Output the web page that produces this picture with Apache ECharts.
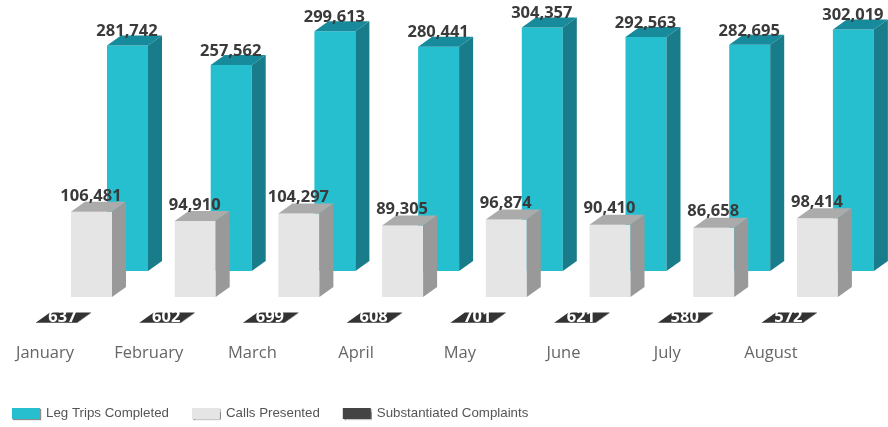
<!DOCTYPE html>
<html>
<head>
<meta charset="utf-8">
<style>html,body{margin:0;padding:0;background:#fff}#show_picture{width:888px;height:427px}</style>
<script src="https://cdn.jsdelivr.net/npm/echarts@6/dist/echarts.min.js"></script>
</head>
<body>
<div id="show_picture"></div>
<script>
const months = ['January', 'February', 'March', 'April', 'May', 'June', 'July', 'August'];
const legTrips = [281742, 257562, 299613, 280441, 304357, 292563, 282695, 302019];
const calls = [106481, 94910, 104297, 89305, 96874, 90410, 86658, 98414];
const complaints = [637, 602, 699, 608, 701, 621, 580, 572];

let myChart = echarts.init(document.getElementById('show_picture'));

// fake 3d box, dx/dy moves the whole series along the depth of the chart
function box(colors, dx, dy, labelStyle) {
    return function (params, api) {
        let i = api.value(0);
        let v = api.value(1);
        let p0 = api.coord([i, 0]);
        let p1 = api.coord([i, v]);
        let w = 41, dw = 14, dh = 10;
        let l = p0[0] + dx - w / 2, r = l + w;
        let b = p0[1] + dy, t = p1[1] + dy;
        let txt = v.toLocaleString('en-US');
        return {
            type: 'group',
            children: [
                { type: 'polygon', shape: { points: [[l, b], [r, b], [r, t], [l, t]] }, style: { fill: colors[0] } },
                { type: 'polygon', shape: { points: [[l, t], [r, t], [r + dw, t - dh], [l + dw, t - dh]] }, style: { fill: colors[1] } },
                { type: 'polygon', shape: { points: [[r, b], [r + dw, b - dh], [r + dw, t - dh], [r, t]] }, style: { fill: colors[2] } },
                {
                    type: 'text',
                    z2: 10,
                    style: Object.assign({
                        text: txt,
                        x: (l + r) / 2 + labelStyle.dx,
                        y: t + labelStyle.dy,
                        align: 'center',
                        verticalAlign: 'middle',
                        fontFamily: 'Open Sans',
                        fontWeight: 'bold'
                    }, labelStyle.text)
                }
            ]
        };
    };
}

let option = {
    animation: false,
    backgroundColor: '#fff',
    grid: { left: 45, top: 3, width: 725.9, height: 320 },
    xAxis: {
        type: 'category',
        data: months,
        boundaryGap: false,
        axisLine: { show: false },
        axisTick: { show: false },
        axisLabel: { margin: 22, fontFamily: 'Open Sans', fontSize: 16.5, color: '#666' }
    },
    yAxis: { type: 'value', min: 0, max: 400000, show: false },
    legend: {
        left: 12,
        top: 407,
        padding: 0,
        icon: 'rect',
        itemWidth: 28,
        itemHeight: 11,
        itemGap: 23,
        itemStyle: { shadowColor: 'rgba(0,0,0,0.45)', shadowBlur: 1, shadowOffsetX: 1, shadowOffsetY: 1 },
        textStyle: { fontFamily: 'Liberation Sans', fontSize: 13.3, color: '#555', padding: [0, 0, 0, 1] },
        data: ['Leg Trips Completed', 'Calls Presented', 'Substantiated Complaints']
    },
    series: [
        {
            name: 'Leg Trips Completed',
            type: 'custom',
            clip: false,
            itemStyle: { color: '#26BFD0' },
            renderItem: box(['#26BFD0', '#178A9B', '#187C8A'], 82.5, -52, { dx: -0.5, dy: -14, text: { fontSize: 16.5, fill: '#3a3a3a' } }),
            data: months.map((m, i) => [i, legTrips[i]])
        },
        {
            name: 'Calls Presented',
            type: 'custom',
            clip: false,
            itemStyle: { color: '#E5E5E5' },
            renderItem: box(['#E5E5E5', '#ABABAB', '#999999'], 46.5, -26, { dx: -0.5, dy: -16, text: { fontSize: 16.5, fill: '#3a3a3a' } }),
            data: months.map((m, i) => [i, calls[i]])
        },
        {
            name: 'Substantiated Complaints',
            type: 'custom',
            clip: false,
            itemStyle: { color: '#444444' },
            renderItem: box(['#333333', '#333333', '#333333'], 11.5, 0, { dx: 6, dy: -5, text: { fontSize: 16.5, fill: '#fff' } }),
            data: months.map((m, i) => [i, complaints[i]])
        }
    ]
};

option && myChart.setOption(option);
</script>
</body>
</html>
